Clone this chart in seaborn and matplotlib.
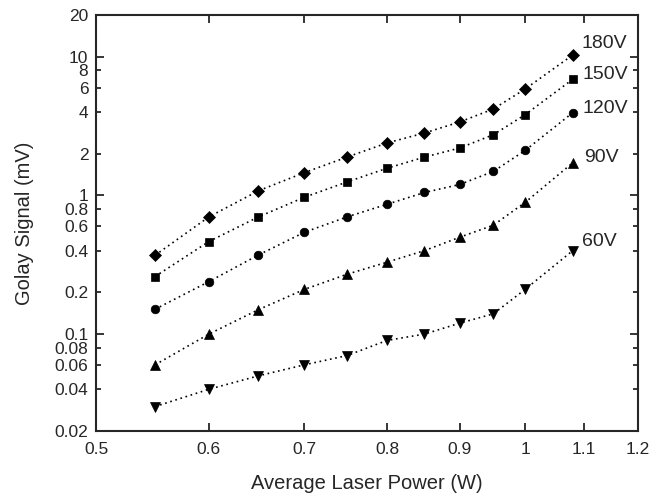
import matplotlib
matplotlib.use("Agg")
import matplotlib.pyplot as plt
import numpy as np
import seaborn as sns
from matplotlib.ticker import FixedLocator, FixedFormatter, NullLocator

# data
power = [0.55, 0.6, 0.65, 0.7, 0.75, 0.8, 0.85, 0.9, 0.95, 1.0, 1.08]
sig_180 = [0.37, 0.70, 1.08, 1.46, 1.89, 2.39, 2.82, 3.39, 4.2, 5.85, 10.3]
sig_150 = [0.26, 0.465, 0.70, 0.97, 1.25, 1.57, 1.89, 2.2, 2.74, 3.82, 6.88]
sig_120 = [0.151, 0.239, 0.372, 0.542, 0.70, 0.863, 1.05, 1.2, 1.49, 2.11, 3.95]
sig_90 = [0.06, 0.10, 0.15, 0.21, 0.27, 0.33, 0.40, 0.50, 0.61, 0.89, 1.72]
sig_60 = [0.03, 0.04, 0.05, 0.06, 0.07, 0.09, 0.10, 0.12, 0.14, 0.21, 0.40]

labels = ["180V", "150V", "120V", "90V", "60V"]
series = [sig_180, sig_150, sig_120, sig_90, sig_60]
markers = ["D", "s", "o", "^", "v"]
msizes = [6.5, 5.5, 6.2, 7, 7]
label_offsets = [(6.5, 5), (7, 0), (7, 0), (8.5, 0.5), (7, 3.5)]

x_ticks = [0.5, 0.6, 0.7, 0.8, 0.9, 1.0, 1.1, 1.2]
x_ticklabels = ["0.5", "0.6", "0.7", "0.8", "0.9", "1", "1.1", "1.2"]
y_major = [0.1, 1, 10]
y_major_labels = ["0.1", "1", "10"]
y_minor = [0.02, 0.04, 0.06, 0.08, 0.2, 0.4, 0.6, 0.8, 2, 4, 6, 8, 20]
y_minor_labels = ["0.02", "0.04", "0.06", "0.08", "0.2", "0.4", "0.6", "0.8",
                  "2", "4", "6", "8", "20"]

sns.set_style("ticks")
plt.rcParams["font.family"] = ["Liberation Sans", "DejaVu Sans"]

fig = plt.figure(figsize=(6.5, 4.94), dpi=100)
ax = fig.add_axes([0.1477, 0.1275, 0.9815 - 0.1477, 0.9696 - 0.1275])

for vals, m, ms in zip(series, markers, msizes):
    sns.lineplot(x=power, y=vals, ax=ax, color="black", marker=m,
                 markersize=ms, markeredgecolor="black", markeredgewidth=0.5,
                 linestyle=(0, (1, 2.2)), linewidth=1.2)

for vals, lab, off in zip(series, labels, label_offsets):
    ax.annotate(lab, xy=(power[-1], vals[-1]), xytext=off,
                textcoords="offset points", fontsize=14, ha="left", va="baseline")

ax.set_xscale("log")
ax.set_yscale("log")
ax.set_xlim(0.5, 1.2)
ax.set_ylim(0.02, 20)

ax.xaxis.set_major_locator(FixedLocator(x_ticks))
ax.xaxis.set_major_formatter(FixedFormatter(x_ticklabels))
ax.xaxis.set_minor_locator(NullLocator())
ax.yaxis.set_major_locator(FixedLocator(y_major))
ax.yaxis.set_major_formatter(FixedFormatter(y_major_labels))
ax.yaxis.set_minor_locator(FixedLocator(y_minor))
ax.yaxis.set_minor_formatter(FixedFormatter(y_minor_labels))

ax.tick_params(which="both", direction="in", top=True, right=True,
               labelsize=12.5, width=1.3)
ax.tick_params(which="major", length=6)
ax.tick_params(which="minor", length=3.5)
ax.tick_params(axis="x", which="both", pad=8)
ax.tick_params(axis="y", which="both", pad=5.5)

for sp in ax.spines.values():
    sp.set_linewidth(1.5)

ax.set_xlabel("Average Laser Power (W)", fontsize=14.5, labelpad=12)
ax.set_ylabel("Golay Signal (mV)", fontsize=14.5, labelpad=15)

fig.savefig("out.png", dpi=100)
